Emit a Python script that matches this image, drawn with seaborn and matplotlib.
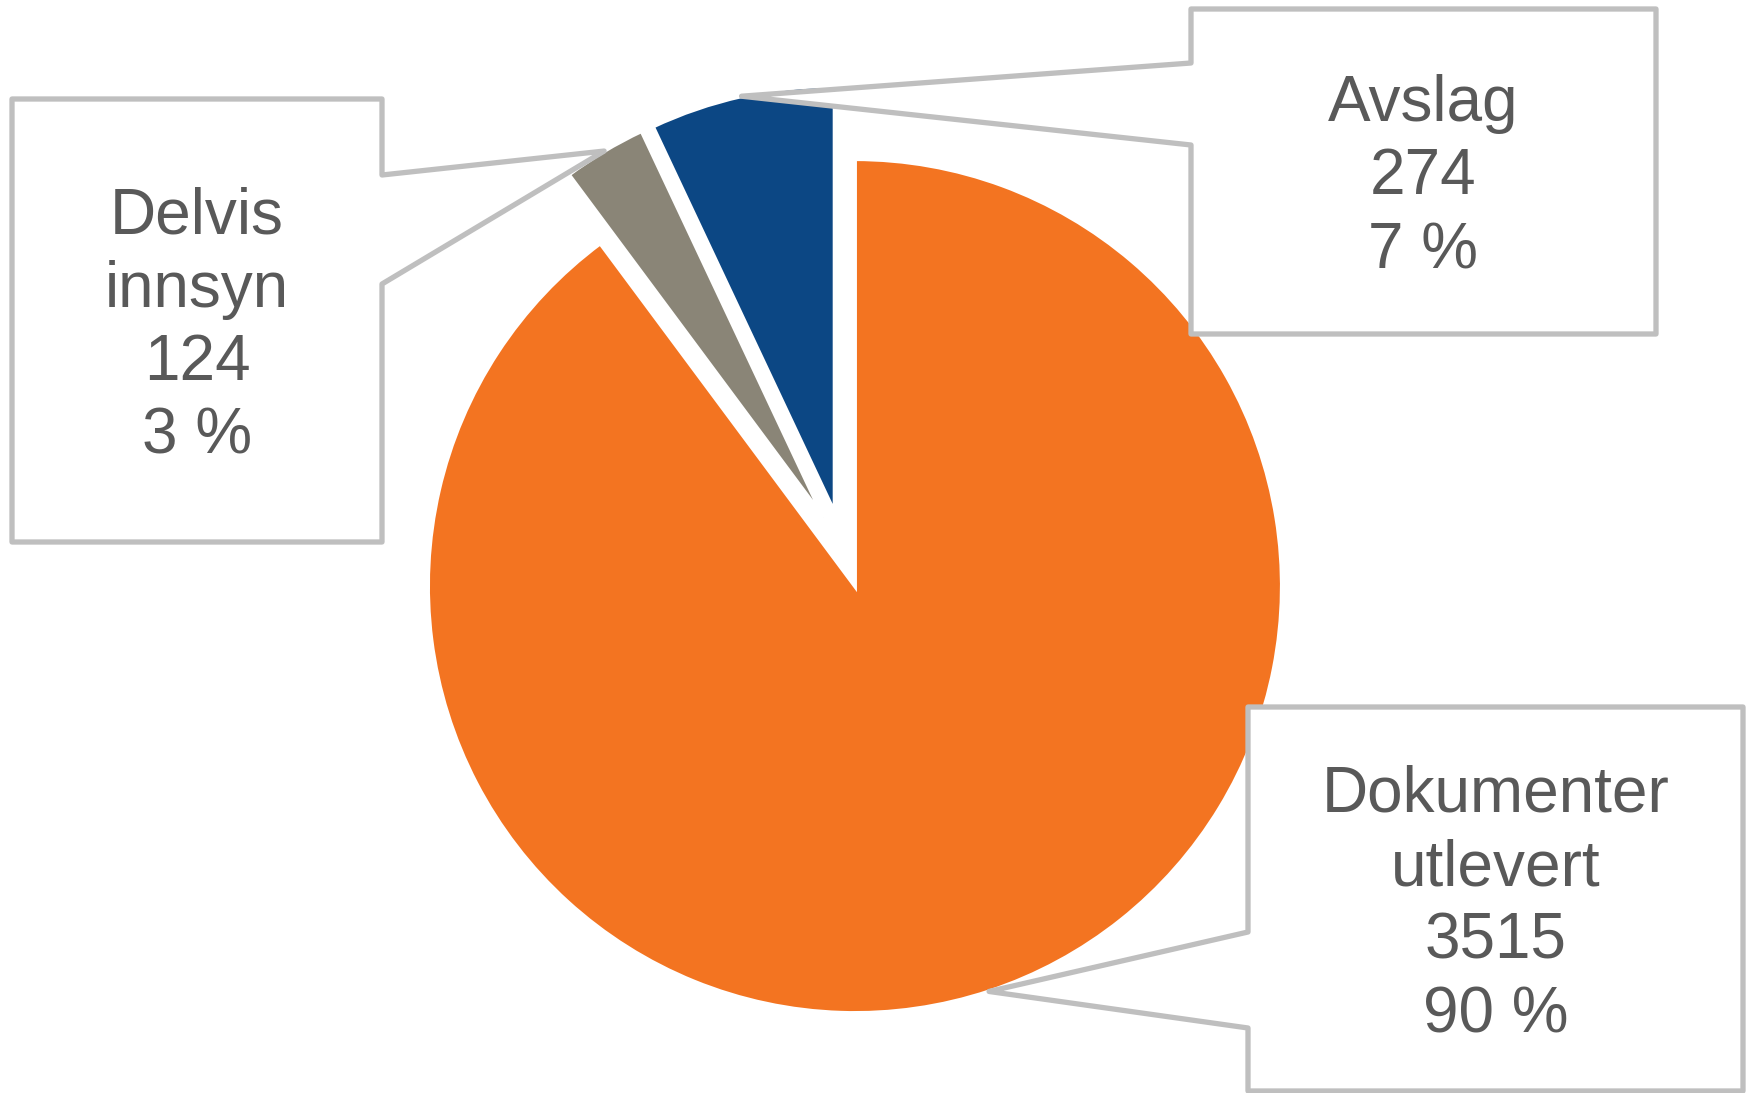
import matplotlib
matplotlib.use("Agg")
import numpy as np
import matplotlib.pyplot as plt
import seaborn as sns
from matplotlib.patches import Polygon

# Style
sns.set_style("white")
plt.rcParams['font.family'] = ['Liberation Sans', 'DejaVu Sans']

# ============================================================================
# DATA
# ============================================================================

categories = ["Dokumenter\nutlevert", "Delvis\ninnsyn", "Avslag"]
counts = [3515, 124, 274]
colors = ["#F37421", "#8A8577", "#0C4784"]

# ============================================================================
# LAYOUT (pixel units, y measured from the top)
# ============================================================================

W, H = 1746, 1093
PIE_CENTER = (843, 550)
PIE_RADIUS = 427
EXPLODE = 38  # matplotlib takes this in data units, here pixels

# callout boxes: (left, right, top, bottom), pointer side, pointer base (y top, y bottom)
callouts = [
    dict(box=(1248, 1743, 707, 1091), side="left", base=(932, 1028)),
    dict(box=(12, 382, 99, 542), side="right", base=(175, 284)),
    dict(box=(1191, 1656, 9, 334), side="left", base=(63, 145)),
]

BORDER = "#BFBFBF"
TEXT = "#595959"

# ============================================================================
# PLOT
# ============================================================================

fig = plt.figure(figsize=(W / 100, H / 100), dpi=100)
ax = fig.add_axes([0, 0, 1, 1])

wedges, _ = ax.pie(counts, colors=colors, startangle=90, counterclock=False,
                   explode=[EXPLODE] * len(counts),
                   center=(PIE_CENTER[0], H - PIE_CENTER[1]), radius=PIE_RADIUS,
                   wedgeprops=dict(edgecolor="white", linewidth=2.9))

total = sum(counts)
for wedge, cat, cnt, co in zip(wedges, categories, counts, callouts):
    # pointer tip sits on the arc at the middle of the slice
    mid = np.deg2rad((wedge.theta1 + wedge.theta2) / 2)
    tip = (wedge.center[0] + wedge.r * np.cos(mid),
           wedge.center[1] + wedge.r * np.sin(mid))

    x0, x1, top, bot = co["box"]
    b1, b2 = co["base"]
    if co["side"] == "right":
        pts = [(x0, top), (x1, top), (x1, b1), None, (x1, b2), (x1, bot), (x0, bot)]
    else:
        pts = [(x0, top), (x1, top), (x1, bot), (x0, bot), (x0, b2), None, (x0, b1)]
    verts = [tip if p is None else (p[0], H - p[1]) for p in pts]
    ax.add_patch(Polygon(verts, closed=True, facecolor="white", edgecolor=BORDER,
                         linewidth=3.8, joinstyle="round", zorder=3))

    pct = round(100 * cnt / total)
    ax.text((x0 + x1) / 2, H - (top + bot) / 2 - 6, f"{cat}\n{cnt}\n{pct} %",
            ha="center", va="center", multialignment="center",
            fontsize=46, color=TEXT, linespacing=1.29, zorder=4)

ax.set_xlim(0, W)
ax.set_ylim(0, H)
ax.set_aspect("equal")
ax.axis("off")

fig.savefig("out.png", dpi=100)
